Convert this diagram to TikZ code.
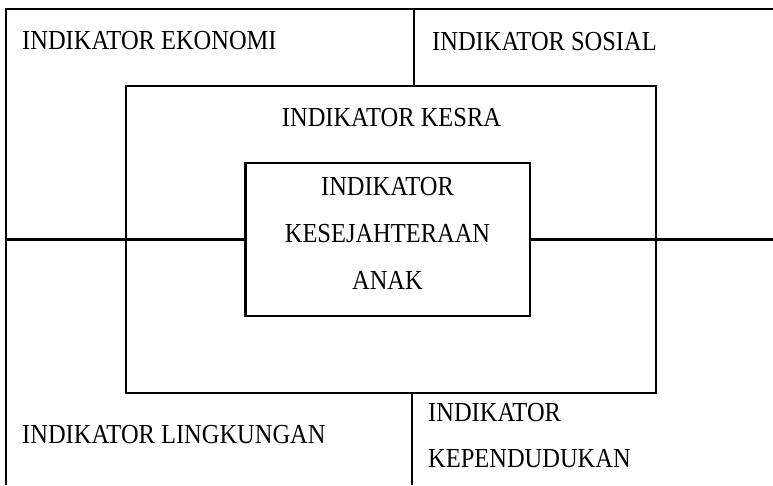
\documentclass[tikz,border=0pt]{standalone}
\usepackage{fontspec}
\setmainfont[FakeStretch=0.89]{Liberation Serif}
\begin{document}
\begin{tikzpicture}[x=1pt,y=-1pt,
  frame/.style={line width=2.2pt},
  lbl/.style={inner sep=0pt,font=\fontsize{27.5}{30}\selectfont},
  boxr/.style={draw,line width=2.2pt,inner sep=0pt}]
\useasboundingbox (0,0) rectangle (773,485);
% outer frame
\coordinate (tl) at (6,9);
\coordinate (tr) at (773,9);
\coordinate (bl) at (6,485);
\draw[frame] (tr) -- (tl) -- (bl);
% boxes
\node[boxr,minimum width=530pt,minimum height=307pt] (kesra) at (391,239.5) {};
\node[boxr,minimum width=284.5pt,minimum height=153pt] (anak) at (387.75,239.5) {};
% dividers
\coordinate (dtop) at (414,9);
\coordinate (dbot) at (412,485);
\coordinate (hl) at (6,239.5);
\coordinate (hr) at (773,239.5);
\draw[frame] (dtop) -- (dtop |- kesra.north);
\draw[frame] (dbot |- kesra.south) -- (dbot);
\draw[frame] (hl) -- (anak.west);
\draw[frame] (anak.east) -- (hr);
% labels
\node[lbl,anchor=base west] (eko) at (22,49) {INDIKATOR EKONOMI};
\node[lbl,anchor=base west] (sos) at (432,50) {INDIKATOR SOSIAL};
\node[lbl,anchor=base] (ksr) at (391.5,126) {INDIKATOR KESRA};
\node[lbl,anchor=base] (a1) at (387.5,195) {INDIKATOR};
\node[lbl,anchor=base] (a2) at (387.5,242) {KESEJAHTERAAN};
\node[lbl,anchor=base] (a3) at (387.5,289) {ANAK};
\node[lbl,anchor=base west] (lkg) at (22,443) {INDIKATOR LINGKUNGAN};
\node[lbl,anchor=base west] (kp1) at (428,421) {INDIKATOR};
\node[lbl,anchor=base west] (kp2) at (428,467) {KEPENDUDUKAN};
\end{tikzpicture}
\end{document}
